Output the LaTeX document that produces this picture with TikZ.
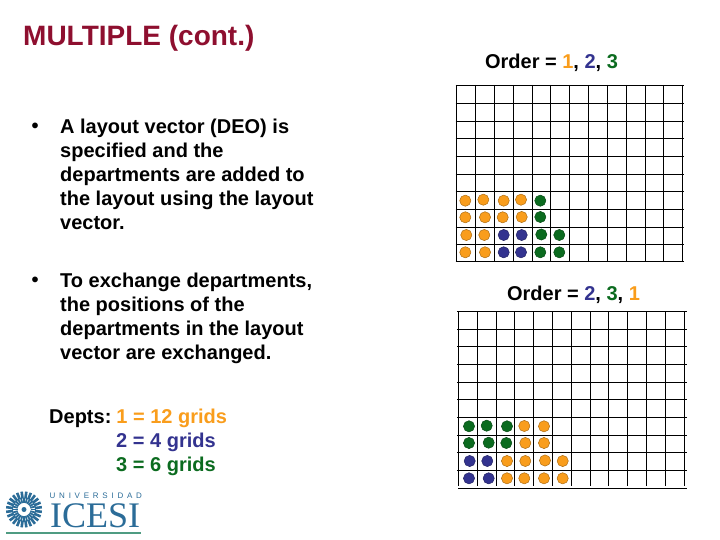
\documentclass[tikz,border=0pt]{standalone}
\usepackage{fontspec}
\setmainfont{Liberation Sans}
\newfontfamily\logofont{Liberation Serif}
\newfontfamily\logotopfont[LetterSpace=47]{Liberation Sans}
\usetikzlibrary{calc, positioning}
\definecolor{titlered}{HTML}{8E0F2F}
\definecolor{deptorange}{HTML}{F99D1C}
\definecolor{deptblue}{HTML}{33338F}
\definecolor{deptgreen}{HTML}{0B6B1F}
\definecolor{logoblue}{HTML}{2B6C98}
\definecolor{logogreen}{HTML}{4F9C82}
\tikzset{
  bodytext/.style={inner sep=0pt, anchor=north west, align=left, font=\fontsize{20}{24}\selectfont\bfseries},
  ordertext/.style={inner sep=0pt, font=\fontsize{20}{24}\selectfont\bfseries},
  gridline/.style={line width=0.7pt, black},
  orangedot/.style={draw=deptorange!70!black, fill=deptorange, line width=0.5pt},
  bluedot/.style={draw=deptblue!70!black, fill=deptblue, line width=0.5pt},
  greendot/.style={draw=deptgreen!70!black, fill=deptgreen, line width=0.5pt},
}
\begin{document}
\begin{tikzpicture}[x=1pt, y=-1pt, line join=round]
\useasboundingbox (0,0) rectangle (720,540);

% Title and text on the left
\node[inner sep=0pt, anchor=west, text=titlered, font=\fontsize{28}{30}\selectfont\bfseries] (title) at (23,38.5) {MULTIPLE (cont.)};
\node[bodytext] (bulletone) at (31.5,123) {•};
\node[bodytext] (layouttext) at (60,119) {A layout vector (DEO) is\\specified and the\\departments are added to\\the layout using the layout\\vector.};
\node[bodytext] (bullettwo) at (31.5,277) {•};
\node[bodytext] (exchangetext) at (60,273) {To exchange departments,\\the positions of the\\departments in the layout\\vector are exchanged.};
\node[bodytext] (deptsone) at (49,409) {Depts:\kern5pt\textcolor{deptorange}{1 = 12 grids}};
\node[bodytext, text=deptblue] (deptstwo) at (116,433) {2 = 4 grids};
\node[bodytext, text=deptgreen] (deptsthree) at (116,457) {3 = 6 grids};

% Top layout
\node[ordertext] (ordertop) at (551.5,63) {Order = \textcolor{deptorange}{1}, \textcolor{deptblue}{2}, \textcolor{deptgreen}{3}};
\foreach \x in {456.7,475.7,494.7,513.4,532.7,550.7,569.4,588.7,607.4,626.7,645,663.7,682.7}
  \draw[gridline] (\x,85) -- (\x,261.7);
\foreach \y in {85,103.3,121.3,138.7,156.7,174.3,191.7,209.3,227,244.3,261.7}
  \draw[gridline] (455.5,\y) -- (684,\y);

\foreach \x/\y in {465.3/200.7,483.3/199.7,503.7/200.7,521/199.7,
                465.3/217.3,485/217.3,502.7/217.3,521.7/217,
                466.3/235,484.3/235,
                465.3/252.3,485/252.3}
  \filldraw[orangedot] (\x,\y) circle (5.6);
\foreach \x/\y in {503.7/235,521.7/235,503.7/252.3,521/252.3}
  \filldraw[bluedot] (\x,\y) circle (5.6);
\foreach \x/\y in {540.3/200.7,540.3/217,541.3/234.5,559.3/235,540.3/252.3,559.3/252.3}
  \filldraw[greendot] (\x,\y) circle (5.6);

% Bottom layout
\node[ordertext] (orderbottom) at (573.5,295) {Order = \textcolor{deptblue}{2}, \textcolor{deptgreen}{3}, \textcolor{deptorange}{1}};
\foreach \x in {458.3,477.7,496.7,514.7,533.7,552.7,571.7,590.3,608.7,627.7,646.7,665.7,684.7}
  \draw[gridline] (\x,311) -- (\x,485.7);
\foreach \y in {311,329.3,346.3,364.3,382.3,399.7,417.3,435.3,452.7,470.3}
  \draw[gridline] (457,\y) -- (687,\y);
\draw[gridline] (458,488) -- (687,488);

\foreach \x/\y in {524.3/426,544/426.3,525.3/443,544/443,
                507/461,525.3/461,545/460.5,562.7/461,
                507/478.3,524.3/478.3,544/478.3,562.7/478.3}
  \filldraw[orangedot] (\x,\y) circle (5.6);
\foreach \x/\y in {469.7/461,487.3/461,469/478.3,488.7/478.3}
  \filldraw[bluedot] (\x,\y) circle (5.6);
\foreach \x/\y in {469/426.3,486.7/425.7,507/426.3,469/443,488.7/442.7,506.3/443}
  \filldraw[greendot] (\x,\y) circle (5.6);

% University logo
\foreach \a in {0,15,...,345}
  \draw[logoblue, line width=1.8pt] (24,509.5)+(\a:6.5) -- +(\a:12);
\foreach \a in {7.5,22.5,...,352.5}
  \draw[logoblue, line width=2.6pt] (24,509.5)+(\a:11) -- +(\a:18);
\fill[logoblue] (24,509.5) circle (2.5);
\node[inner sep=0pt, anchor=base west, text=logoblue, font=\logotopfont\fontsize{8}{8}\selectfont] (logotop) at (49.5,498) {UNIVERSIDAD};
\node[inner sep=0pt, anchor=base west, text=logoblue, font=\logofont\fontsize{36}{36}\selectfont] (logoname) at (50,527) {ICESI};
\fill[logogreen] (6,531.5) rectangle (141,534);
\end{tikzpicture}
\end{document}
